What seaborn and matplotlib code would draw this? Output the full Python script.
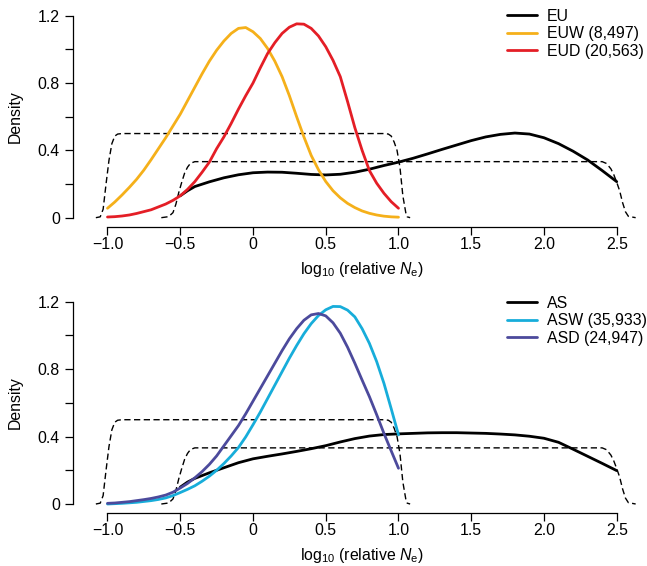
import matplotlib
matplotlib.use("Agg")
import matplotlib.pyplot as plt
import seaborn as sns
import pandas as pd
from matplotlib.ticker import MultipleLocator

# ---- prior curves (dashed) ----
prior1_x = [-1.08, -1.05, -1.03, -1.01, -0.99, -0.97, -0.95, -0.93, -0.90,
            0.90, 0.93, 0.95, 0.97, 0.99, 1.01, 1.03, 1.05, 1.06, 1.08]
prior1_y = [0.0, 0.005, 0.05, 0.20, 0.34, 0.44, 0.485, 0.497, 0.50,
            0.50, 0.497, 0.485, 0.45, 0.40, 0.30, 0.13, 0.03, 0.005, 0.0]
prior2_x = [-0.63, -0.58, -0.55, -0.53, -0.51, -0.49, -0.47, -0.45, -0.43, -0.40,
            2.40, 2.43, 2.46, 2.48, 2.50, 2.52, 2.54, 2.56, 2.58, 2.63]
prior2_y = [0.0, 0.006, 0.03, 0.08, 0.15, 0.21, 0.265, 0.30, 0.323, 0.333,
            0.333, 0.322, 0.29, 0.255, 0.21, 0.16, 0.09, 0.035, 0.008, 0.0]

# ---- Europe ----
eu_x = [-0.5, -0.45, -0.4, -0.3, -0.2, -0.1, 0.0, 0.1, 0.2, 0.3, 0.4, 0.5, 0.6, 0.7,
        0.8, 0.9, 1.0, 1.1, 1.2, 1.3, 1.4, 1.5, 1.6, 1.7, 1.8, 1.9, 2.0, 2.1, 2.2,
        2.3, 2.4, 2.5]
eu_y = [0.13, 0.16, 0.185, 0.213, 0.237, 0.255, 0.267, 0.271, 0.27, 0.264, 0.257,
        0.254, 0.258, 0.27, 0.288, 0.31, 0.33, 0.353, 0.379, 0.406, 0.432, 0.458,
        0.48, 0.495, 0.503, 0.497, 0.475, 0.44, 0.395, 0.343, 0.28, 0.214]

w_x = [-1.0, -0.95, -0.9, -0.85, -0.8, -0.75, -0.7, -0.65, -0.6, -0.55, -0.5, -0.45,
       -0.4, -0.35, -0.3, -0.25, -0.2, -0.15, -0.1, -0.05, 0.0, 0.05, 0.1, 0.15, 0.2,
       0.25, 0.3, 0.35, 0.4, 0.45, 0.5, 0.55, 0.6, 0.65, 0.7, 0.75, 0.8, 0.85, 0.9,
       0.95, 1.0]

euw_y = [0.056, 0.093, 0.135, 0.18, 0.228, 0.283, 0.345, 0.41, 0.475, 0.545, 0.615,
         0.695, 0.775, 0.855, 0.93, 0.995, 1.05, 1.095, 1.125, 1.13, 1.105, 1.065,
         1.006, 0.93, 0.838, 0.725, 0.60, 0.48, 0.37, 0.285, 0.215, 0.16, 0.118,
         0.085, 0.06, 0.04, 0.026, 0.016, 0.009, 0.005, 0.003]
eud_y = [0.004, 0.006, 0.01, 0.016, 0.025, 0.036, 0.047, 0.064, 0.081, 0.103, 0.13,
         0.168, 0.214, 0.27, 0.33, 0.41, 0.48, 0.56, 0.645, 0.725, 0.80, 0.89, 0.975,
         1.04, 1.095, 1.132, 1.152, 1.15, 1.125, 1.08, 1.016, 0.935, 0.838, 0.69,
         0.535, 0.40, 0.28, 0.205, 0.145, 0.095, 0.056]

# ---- Asia ----
as_x = [-0.5, -0.45, -0.4, -0.3, -0.2, -0.1, 0.0, 0.1, 0.2, 0.3, 0.4, 0.5, 0.6, 0.7,
        0.8, 0.9, 1.0, 1.1, 1.2, 1.3, 1.4, 1.5, 1.6, 1.7, 1.8, 1.9, 2.0, 2.1, 2.2,
        2.3, 2.4, 2.5]
as_y = [0.10, 0.13, 0.152, 0.185, 0.215, 0.245, 0.268, 0.283, 0.297, 0.312, 0.328,
        0.346, 0.368, 0.388, 0.403, 0.412, 0.416, 0.419, 0.422, 0.423, 0.423, 0.421,
        0.419, 0.415, 0.41, 0.402, 0.39, 0.366, 0.325, 0.283, 0.241, 0.198]
asw_y = [0.0, 0.002, 0.004, 0.007, 0.01, 0.015, 0.02, 0.027, 0.036, 0.05, 0.068,
         0.087, 0.108, 0.135, 0.165, 0.20, 0.24, 0.285, 0.335, 0.398, 0.47, 0.545,
         0.625, 0.705, 0.785, 0.865, 0.94, 1.01, 1.07, 1.118, 1.152, 1.172, 1.171,
         1.15, 1.11, 1.04, 0.953, 0.845, 0.716, 0.565, 0.41]
asd_y = [0.004, 0.006, 0.01, 0.014, 0.02, 0.026, 0.033, 0.042, 0.053, 0.07, 0.095,
         0.122, 0.155, 0.192, 0.235, 0.285, 0.345, 0.405, 0.465, 0.535, 0.61, 0.685,
         0.76, 0.835, 0.91, 0.98, 1.04, 1.09, 1.122, 1.13, 1.116, 1.075, 1.013, 0.93,
         0.835, 0.735, 0.637, 0.53, 0.419, 0.315, 0.212]

x_ticks = [-1.0, -0.5, 0.0, 0.5, 1.0, 1.5, 2.0, 2.5]
x_labels = ["\u22121.0", "\u22120.5", "0", "0.5", "1.0", "1.5", "2.0", "2.5"]
y_ticks = [0.0, 0.4, 0.8, 1.2]
y_labels = ["0", "0.4", "0.8", "1.2"]

FONT = 11.4

sns.set_theme(style="ticks")
plt.rcParams["font.family"] = ["Liberation Sans", "DejaVu Sans"]
plt.rcParams["mathtext.fontset"] = "custom"
plt.rcParams["mathtext.rm"] = "Liberation Sans"
plt.rcParams["mathtext.it"] = "Liberation Sans:italic"
for key in ("text.color", "axes.labelcolor", "xtick.color", "ytick.color",
            "axes.edgecolor"):
    plt.rcParams[key] = "black"


def line(ax, x, y, color, label=None, **kw):
    df = pd.DataFrame({"x": x, "y": y})
    sns.lineplot(data=df, x="x", y="y", ax=ax, color=color, errorbar=None,
                 label=label if label else "_nolegend_", **kw)


def draw_panel(ax, curves, legend_top):
    dash = dict(lw=1.0, linestyle=(0, (4.5, 2.5)))
    line(ax, prior1_x, prior1_y, "black", **dash)
    line(ax, prior2_x, prior2_y, "black", **dash)
    for x, y, c, lab in curves:
        line(ax, x, y, c, label=lab, lw=2.0)

    ax.set_xlim(-1.239, 2.7)
    ax.set_ylim(-0.0535, 1.22)
    sns.despine(ax=ax)
    ax.spines["left"].set_bounds(0, 1.2)
    ax.spines["bottom"].set_bounds(-1.0, 2.5)
    for s in ("left", "bottom"):
        ax.spines[s].set_linewidth(0.9)
        ax.spines[s].set_color("black")
    ax.set_xticks(x_ticks, x_labels)
    ax.set_yticks(y_ticks, y_labels)
    ax.yaxis.set_minor_locator(MultipleLocator(0.2))
    ax.tick_params(which="both", length=5.8, width=0.9, labelsize=FONT,
                   color="black", labelcolor="black")
    ax.tick_params(axis="x", pad=1.5)
    ax.tick_params(axis="y", pad=3.5)

    ax.set_ylabel("Density", fontsize=FONT, color="black")
    ax.set_xlabel(r"log$_{10}$ (relative $N_\mathrm{e}$)", fontsize=FONT, color="black")
    ax.yaxis.set_label_coords(-0.087, 0.513)
    ax.xaxis.set_label_coords(0.504, -0.155)

    handles, labels = ax.get_legend_handles_labels()
    leg = ax.legend(handles, labels, loc="upper left", frameon=False, fontsize=FONT,
                    bbox_to_anchor=(507 / 647, legend_top),
                    bbox_transform=ax.figure.transFigure,
                    borderpad=0, borderaxespad=0, handlelength=1.9, handletextpad=0.6,
                    labelspacing=0.15)
    for t in leg.get_texts():
        t.set_color("black")


fig = plt.figure(figsize=(6.47, 5.66), dpi=100)
ax_top = fig.add_axes([0.1124, 0.5995, 0.8858, 0.3786])
ax_bot = fig.add_axes([0.1124, 0.0936, 0.8858, 0.3793])

draw_panel(ax_top, [
    (eu_x, eu_y, "black", "EU"),
    (w_x, euw_y, "#F5B01A", "EUW (8,497)"),
    (w_x, eud_y, "#E41E26", "EUD (20,563)"),
], (566 - 9) / 566)

draw_panel(ax_bot, [
    (as_x, as_y, "black", "AS"),
    (w_x, asw_y, "#17ADDA", "ASW (35,933)"),
    (w_x, asd_y, "#4C4A9C", "ASD (24,947)"),
], (566 - 296) / 566)

fig.savefig("out.png", dpi=100)
